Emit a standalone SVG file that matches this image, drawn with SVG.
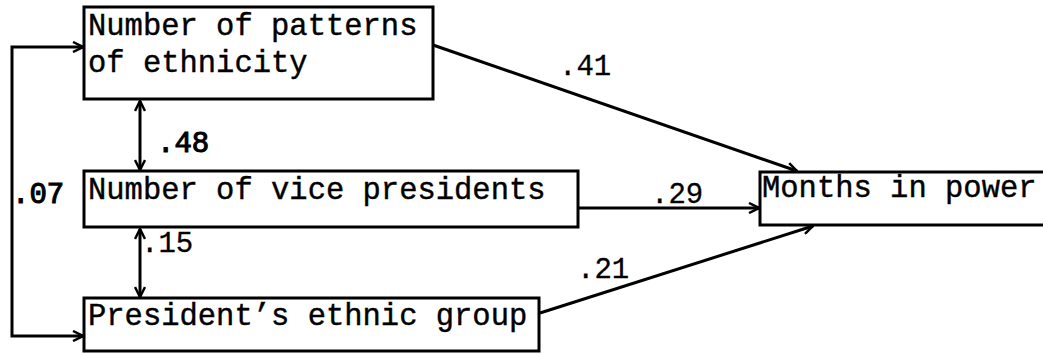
<svg xmlns="http://www.w3.org/2000/svg" width="1043" height="354" viewBox="0 0 1043 354">
<style>
.box{fill:#fff;stroke:#000;stroke-width:3}
.t{font-family:"Liberation Mono","Courier New",monospace;font-size:30.5px;fill:#000;stroke:#000;stroke-width:0.4}
.l{font-family:"Liberation Mono","Courier New",monospace;font-size:29px;fill:#000;stroke:#000;stroke-width:0.3}
.b{stroke-width:1.1}
.c{fill:none;stroke:#000;stroke-width:3}
</style>
<defs>
<marker id="ah" viewBox="0 0 12 12" refX="11" refY="6" markerWidth="12" markerHeight="12" markerUnits="userSpaceOnUse" orient="auto-start-reverse">
<path d="M1,1 L11,6 L1,11" fill="none" stroke="#000" stroke-width="2.5"/>
</marker>
</defs>
<rect width="1043" height="354" fill="#fff"/>
<g id="connectors">
<line class="c" x1="433" y1="45" x2="797" y2="171" marker-end="url(#ah)"/>
<line class="c" x1="578" y1="208" x2="759" y2="208" marker-end="url(#ah)"/>
<line class="c" x1="540" y1="313" x2="813" y2="226" marker-end="url(#ah)"/>
<line class="c" x1="140" y1="101" x2="140" y2="170" marker-start="url(#ah)" marker-end="url(#ah)"/>
<line class="c" x1="140" y1="229" x2="140" y2="297" marker-start="url(#ah)" marker-end="url(#ah)"/>
<polyline class="c" points="83,47 12,47 12,336 83,336" marker-start="url(#ah)" marker-end="url(#ah)"/>
<text class="l" x="559" y="75">.41</text>
<text class="l b" x="157" y="152">.48</text>
<text class="l" x="651" y="203">.29</text>
<text class="l b" x="12" y="203">.07</text>
<text class="l" x="141" y="252">.15</text>
<text class="l" x="577" y="278">.21</text>
</g>
<g id="node-patterns">
<rect class="box" x="84" y="7" width="349" height="92"/>
<text class="t" x="88" y="35">Number of patterns</text>
<text class="t" x="88" y="72">of ethnicity</text>
</g>
<g id="node-vice">
<rect class="box" x="84" y="171" width="494" height="56"/>
<text class="t" x="88" y="199">Number of vice presidents</text>
</g>
<g id="node-president">
<rect class="box" x="84" y="298" width="455" height="53"/>
<text class="t" x="88" y="325">President’s ethnic group</text>
</g>
<g id="node-months">
<rect class="box" x="760" y="172" width="300" height="53"/>
<text class="t" x="762" y="197">Months in power</text>
</g>
</svg>
